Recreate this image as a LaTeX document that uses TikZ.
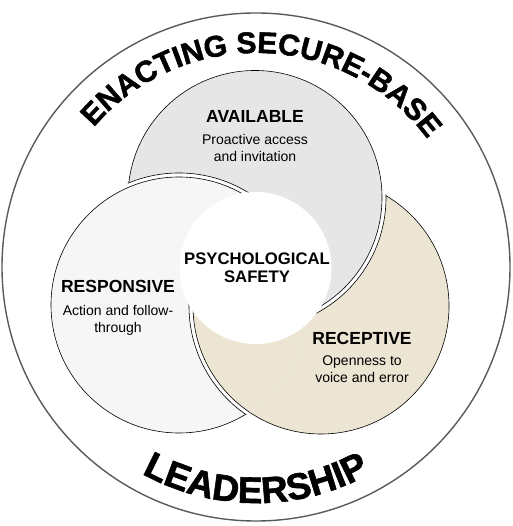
\documentclass[tikz,border=0pt]{standalone}
\usepackage{fontspec}
\setmainfont{Liberation Sans}
\newfontfamily\heavyfont{Liberation Sans}[UprightFont={* Bold},FakeBold=1.6]
\usetikzlibrary{decorations.text}
\definecolor{availgray}{HTML}{E6E6E6}
\definecolor{respgray}{HTML}{F6F6F6}
\definecolor{recbeige}{HTML}{EDE5D3}
\definecolor{ringgray}{HTML}{5A5A5A}
\begin{document}
\begin{tikzpicture}[x=1pt,y=1pt,
  rim/.style={draw=black,line width=0.6pt},
  gapfill/.style={fill=white,draw=black,line width=0.6pt},
  title/.style={font=\fontsize{17.5}{20}\selectfont\bfseries,anchor=base,inner sep=0pt},
  body/.style={font=\fontsize{14}{17}\selectfont,anchor=base,align=center,inner sep=0pt},
  ctitle/.style={font=\fontsize{16.7}{18}\selectfont\bfseries,anchor=base,align=center,inner sep=0pt}]
\useasboundingbox (0,0) rectangle (512,526);
\coordinate (O) at (256,259);
\coordinate (A) at (255,328.5);
\coordinate (B) at (179,221);
\coordinate (C) at (321,220);
\def\rA{127}\def\rB{128}\def\rC{128}\def\g{4}
% outer ring
\draw[ringgray,line width=1.4pt] (O) circle (254);
% receptive (bottom layer)
\fill[recbeige] (C) circle (\rC);
\draw[rim] (C) circle (\rC);
% available over receptive
\begin{scope}
  \clip (C) circle (\rC+1);
  \filldraw[gapfill] (A) circle (\rA+\g);
\end{scope}
\fill[availgray] (A) circle (\rA);
\draw[rim] (A) circle (\rA);
% responsive over available
\begin{scope}
  \clip (A) circle (\rA+1);
  \filldraw[gapfill] (B) circle (\rB+\g);
\end{scope}
\fill[respgray] (B) circle (\rB);
\draw[rim] (B) circle (\rB);
% receptive over responsive
\begin{scope}
  \clip (B) circle (\rB+1);
  \filldraw[gapfill] (C) circle (\rC+\g);
  \fill[recbeige] (C) circle (\rC);
  \draw[rim] (C) circle (\rC);
\end{scope}
% centre
\fill[white] (255.5,258) circle (76);
% curved titles
\path[decorate,decoration={text along path,text align=center,
  text={|\fontsize{30}{30}\selectfont\heavyfont|ENACTING SECURE-BASE}}]
  ([shift={(148:214)}]O) arc[start angle=148,end angle=28,radius=214];
\path[decorate,decoration={text along path,text align=center,
  text={|\fontsize{37}{37}\selectfont\heavyfont|LEADERSHIP}}]
  ([shift={(210:236)}]O) arc[start angle=210,end angle=330,radius=236];
% labels
\node[title] (avail) at (255,403.3) {AVAILABLE};
\node[body] (availtxt) at (255,364) {Proactive access\\and invitation};
\node[ctitle] (psych) at (257,243) {PSYCHOLOGICAL\\SAFETY};
\node[title] (resp) at (118,233) {RESPONSIVE};
\node[body] (resptxt) at (118,193) {Action and follow-\\through};
\node[title] (rec) at (362,181) {RECEPTIVE};
\node[body] (rectxt) at (362,143) {Openness to\\voice and error};
\end{tikzpicture}
\end{document}
